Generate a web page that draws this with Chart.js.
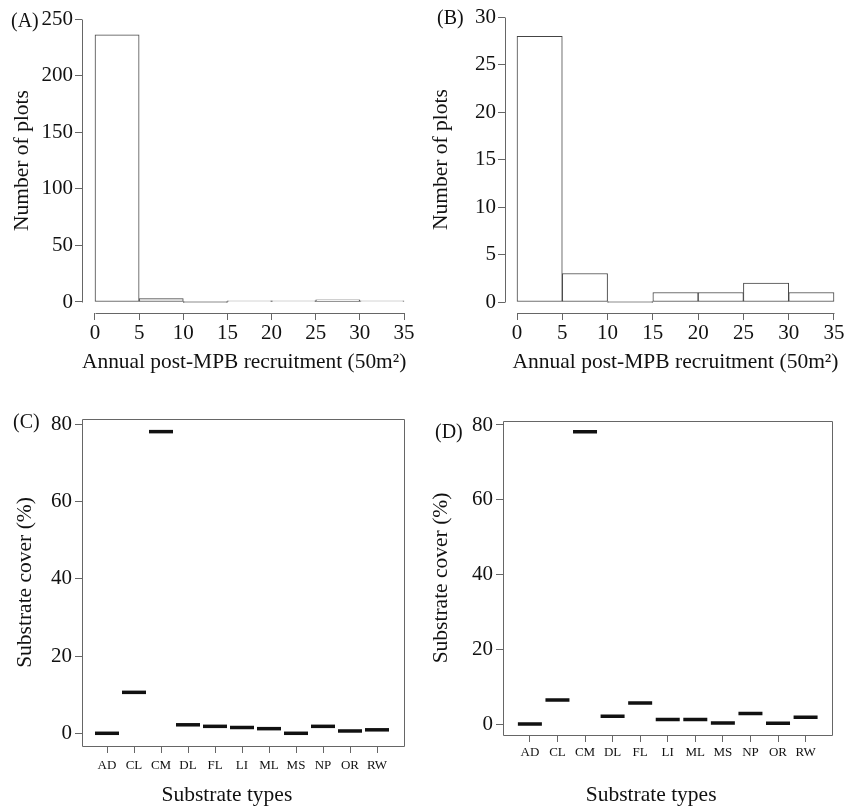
<!DOCTYPE html>
<html>
<head>
<meta charset="utf-8">
<script src="https://cdn.jsdelivr.net/npm/chart.js@4.4.1/dist/chart.umd.min.js"></script>
<style>
  body { margin: 0; background: #fff; }
  #wrap { position: relative; width: 847px; height: 808px; font-family: "Liberation Serif", serif; color: #111; }
  canvas { position: absolute; }
  .tag { position: absolute; font-size: 20px; line-height: 20px; white-space: nowrap; }
</style>
</head>
<body>
<div id="wrap">
  <canvas id="chartA" width="420" height="400" style="left:0;top:0"></canvas>
  <canvas id="chartB" width="427" height="400" style="left:420px;top:0"></canvas>
  <canvas id="chartC" width="420" height="408" style="left:0;top:400px"></canvas>
  <canvas id="chartD" width="427" height="408" style="left:420px;top:400px"></canvas>
  <span class="tag" style="left:11px;top:10px">(A)</span>
  <span class="tag" style="left:437px;top:7px">(B)</span>
  <span class="tag" style="left:13px;top:411px">(C)</span>
  <span class="tag" style="left:435px;top:421px">(D)</span>
</div>
<script>
// histogram bins (recruitment per 50 m2)
const binLower = [0, 5, 10, 15, 20, 25, 30];
const binUpper = [5, 10, 15, 20, 25, 30, 35];
const countsA = [236, 3, 0, 1, 1, 2, 1];
const countsB = [28, 3, 0, 1, 1, 2, 1];
const histXTicks = [0, 5, 10, 15, 20, 25, 30, 35];
const ticksA = [0, 50, 100, 150, 200, 250];
const ticksB = [0, 5, 10, 15, 20, 25, 30];

// substrate cover (%)
const substrates = ["AD", "CL", "CM", "DL", "FL", "LI", "ML", "MS", "NP", "OR", "RW"];
const coverC = [0, 10.6, 78.1, 2.2, 1.8, 1.5, 1.2, 0, 1.8, 0.6, 0.9];
const coverD = [0, 6.4, 78.2, 2.1, 5.6, 1.2, 1.2, 0.3, 2.8, 0.2, 1.8];
const coverTicks = [0, 20, 40, 60, 80];

Chart.defaults.font.family = '"Liberation Serif", serif';
Chart.defaults.color = "#111";

const axisColor = "#666";

// R style axes: detached lines between first and last tick, or a full box
const rFrame = {
  id: "rFrame",
  afterDraw(chart, args, opts) {
    const { ctx, chartArea: a, scales: { x, y } } = chart;
    ctx.save();
    ctx.strokeStyle = axisColor;
    ctx.lineWidth = 1;
    ctx.beginPath();
    if (opts.box) {
      ctx.rect(Math.round(a.left) + 0.5, Math.round(a.top) + 0.5,
        Math.round(a.right - a.left), Math.round(a.bottom - a.top));
    } else {
      const xt = x.ticks, yt = y.ticks;
      const lx = Math.round(a.left) + 0.5;
      const by = Math.round(a.bottom) + 0.5;
      ctx.moveTo(lx, Math.round(y.getPixelForValue(yt[0].value)) + 0.5);
      ctx.lineTo(lx, Math.round(y.getPixelForValue(yt[yt.length - 1].value)) + 0.5);
      ctx.moveTo(Math.round(x.getPixelForValue(xt[0].value)) + 0.5, by);
      ctx.lineTo(Math.round(x.getPixelForValue(xt[xt.length - 1].value)) + 0.5, by);
    }
    ctx.stroke();
    ctx.restore();
  }
};

function axisGrid() {
  return { drawOnChartArea: false, drawTicks: true, tickLength: 7, color: axisColor, lineWidth: 1 };
}

function histogram(id, counts, yTicks, g) {
  new Chart(document.getElementById(id), {
    type: "bar",
    data: {
      datasets: [{
        data: counts.map((c, i) => ({ x: (binLower[i] + binUpper[i]) / 2, y: c })),
        backgroundColor: "#fff",
        borderColor: "#444",
        borderWidth: 1,
        borderSkipped: false,
        minBarLength: 1,
        barPercentage: 1,
        categoryPercentage: 1
      }]
    },
    options: {
      responsive: false,
      animation: false,
      events: [],
      layout: { padding: g.pad },
      plugins: { legend: { display: false }, tooltip: { enabled: false }, rFrame: { box: false } },
      scales: {
        x: {
          type: "linear",
          offset: false,
          min: g.xMin, max: g.xMax,
          afterBuildTicks: s => { s.ticks = histXTicks.map(v => ({ value: v })); },
          afterFit: s => { s.height = g.xH; s.paddingLeft = 0; s.paddingRight = 0; },
          grid: Object.assign(axisGrid(), { offset: false }),
          border: { display: false },
          ticks: { font: { size: 21 }, padding: 1, maxRotation: 0, autoSkip: false },
          title: { display: true, text: g.xTitle, font: { size: 21.5 }, padding: 0 }
        },
        y: {
          min: g.yMin, max: g.yMax,
          afterBuildTicks: s => { s.ticks = yTicks.map(v => ({ value: v })); },
          afterFit: s => { s.width = g.yW; s.paddingTop = 0; s.paddingBottom = 0; },
          grid: axisGrid(),
          border: { display: false },
          ticks: { font: { size: 21 }, padding: 2 },
          title: { display: true, text: "Number of plots", font: { size: 21.5 }, padding: 0 }
        }
      }
    },
    plugins: [rFrame]
  });
}

function coverPlot(id, cover, g) {
  new Chart(document.getElementById(id), {
    type: "scatter",
    data: {
      datasets: [{
        data: cover.map((v, i) => ({ x: i, y: v })),
        pointStyle: "line",
        pointRadius: 12,
        borderColor: "#111",
        borderWidth: 3.5,
        showLine: false
      }]
    },
    options: {
      responsive: false,
      animation: false,
      events: [],
      layout: { padding: g.pad },
      plugins: { legend: { display: false }, tooltip: { enabled: false }, rFrame: { box: true } },
      scales: {
        x: {
          type: "linear",
          min: g.xMin, max: g.xMax,
          afterBuildTicks: s => { s.ticks = substrates.map((c, i) => ({ value: i })); },
          afterFit: s => { s.height = g.xH; s.paddingLeft = 0; s.paddingRight = 0; },
          grid: axisGrid(),
          border: { display: false },
          ticks: {
            font: { size: 13 }, color: "#111", padding: g.catPad, maxRotation: 0, autoSkip: false,
            callback: v => substrates[v]
          },
          title: { display: true, text: "Substrate types\u00a0\u00a0\u00a0\u00a0\u00a0\u00a0", font: { size: 21.5 }, padding: 0 }
        },
        y: {
          min: g.yMin, max: g.yMax,
          afterBuildTicks: s => { s.ticks = coverTicks.map(v => ({ value: v })); },
          afterFit: s => { s.width = g.yW; s.paddingTop = 0; s.paddingBottom = 0; },
          grid: axisGrid(),
          border: { display: false },
          ticks: { font: { size: 21 }, padding: 3 },
          title: { display: true, text: "Substrate cover (%)", font: { size: 21.5 }, padding: 0 }
        }
      }
    },
    plugins: [rFrame]
  });
}

histogram("chartA", countsA, ticksA, {
  pad: { left: 9.2, right: 3, top: 8, bottom: 25.1 },
  xH: 61.9, yW: 72.8,
  xMin: -1.472, xMax: 36.472, yMin: -9.72, yMax: 259.72,
  xTitle: "Annual post-MPB recruitment (50m\u00b2)\u00a0\u00a0"
});

histogram("chartB", countsB, ticksB, {
  pad: { left: 8.7, right: 1, top: 6.3, bottom: 25.1 },
  xH: 61.9, yW: 76.3,
  xMin: -1.325, xMax: 36.325, yMin: -1.159, yMax: 31.159,
  xTitle: "Annual post-MPB recruitment (50m\u00b2)"
});

coverPlot("chartC", coverC, {
  pad: { left: 12.2, right: 16, top: 19, bottom: 0.1 },
  xH: 61.9, yW: 69.8, catPad: 4.5,
  xMin: -0.926, xMax: 11.0, yMin: -3.29, yMax: 81.37
});

coverPlot("chartD", coverD, {
  pad: { left: 8.7, right: 14, top: 21, bottom: 0.1 },
  xH: 72.9, yW: 74.3, catPad: 2.5,
  xMin: -0.975, xMax: 10.94, yMin: -2.943, yMax: 81.07
});
</script>
</body>
</html>
